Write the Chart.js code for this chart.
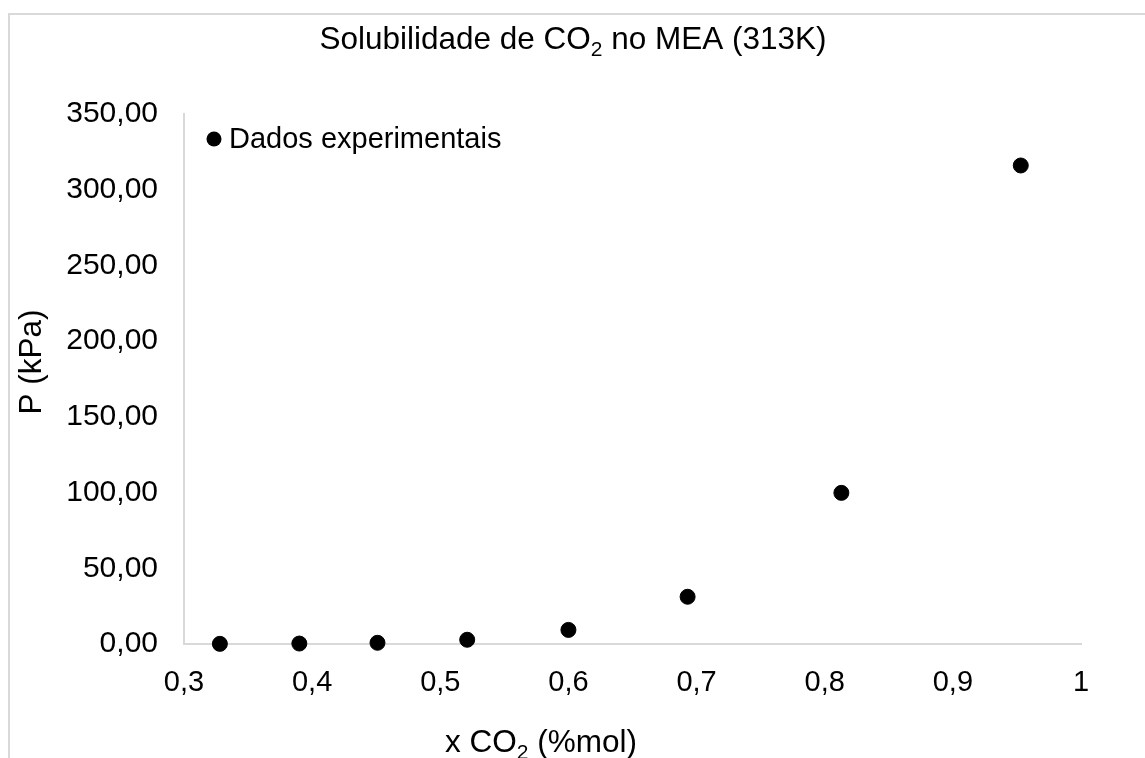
<!DOCTYPE html>
<html>
<head>
<meta charset="utf-8">
<script src="https://cdn.jsdelivr.net/npm/chart.js@4/dist/chart.umd.min.js"></script>
<style>
  html, body { margin: 0; padding: 0; background: #fff; }
  canvas { display: block; }
</style>
</head>
<body>
<canvas id="chart" width="1145" height="758"></canvas>
<script>
// fração molar de CO2 e pressão parcial medidas
const xCO2 = [0.328, 0.390, 0.451, 0.521, 0.600, 0.693, 0.813, 0.953];
const pressao = [0.1, 0.3, 0.8, 2.8, 9.3, 31.2, 99.8, 316.0];
const serieNome = "Dados experimentais";

const FONT = "'Liberation Sans', Arial, sans-serif";
const AXIS_GRAY = "#d9d9d9";

// texto com "2" subscrito (CO2)
function drawRich(ctx, parts, cx, baseline, size) {
  const subSize = Math.round(size * 0.66);
  let total = 0;
  parts.forEach(([t, sub]) => {
    ctx.font = (sub ? subSize : size) + "px " + FONT;
    total += ctx.measureText(t).width;
  });
  let x = cx - total / 2;
  ctx.textAlign = "left";
  ctx.textBaseline = "alphabetic";
  parts.forEach(([t, sub]) => {
    ctx.font = (sub ? subSize : size) + "px " + FONT;
    ctx.fillText(t, x, baseline + (sub ? size * 0.22 : 0));
    x += ctx.measureText(t).width;
  });
}

const moldura = {
  id: "moldura",
  beforeDraw(chart) {
    const ctx = chart.ctx;
    ctx.save();
    ctx.fillStyle = "#fff";
    ctx.fillRect(0, 0, chart.width, chart.height);
    ctx.strokeStyle = AXIS_GRAY;
    ctx.lineWidth = 2;
    ctx.beginPath();
    ctx.moveTo(9, chart.height);
    ctx.lineTo(9, 14);
    ctx.lineTo(chart.width, 14);
    ctx.stroke();
    ctx.restore();
  },
  afterDraw(chart) {
    const ctx = chart.ctx;
    const area = chart.chartArea;
    const ds = chart.data.datasets[0];
    ctx.save();
    ctx.fillStyle = "#000";
    drawRich(ctx, [["Solubilidade de CO", false], ["2", true], [" no MEA (313K)", false]], 573, 49, 31.5);
    drawRich(ctx, [["x CO", false], ["2", true], [" (%mol)", false]], 541, 752, 31.5);

    // legenda dentro da área do gráfico
    const lx = area.left + 30, ly = area.top + 25;
    ctx.fillStyle = ds.backgroundColor;
    ctx.beginPath();
    ctx.arc(lx, ly, ds.pointRadius, 0, Math.PI * 2);
    ctx.fill();
    ctx.fillStyle = "#000";
    ctx.font = "29px " + FONT;
    ctx.textAlign = "left";
    ctx.textBaseline = "middle";
    ctx.fillText(ds.label, lx + 15, ly + 1);

    ctx.translate(41, 362);
    ctx.rotate(-Math.PI / 2);
    drawRich(ctx, [["P (kPa)", false]], 0, 0, 31.5);
    ctx.restore();
  }
};

new Chart(document.getElementById("chart"), {
  type: "scatter",
  data: {
    datasets: [{
      label: serieNome,
      data: xCO2.map((x, i) => ({ x: x, y: pressao[i] })),
      backgroundColor: "#000",
      borderColor: "#000",
      pointRadius: 7.5,
      pointHoverRadius: 7.5,
      clip: false
    }]
  },
  options: {
    responsive: false,
    animation: false,
    devicePixelRatio: 1,
    layout: { padding: { top: 114, right: 64, left: 0, bottom: 0 } },
    plugins: {
      tooltip: { enabled: false },
      legend: { display: false }
    },
    scales: {
      x: {
        type: "linear",
        min: 0.3,
        max: 1,
        afterFit: (s) => { s.height = 114; },
        grid: { color: "transparent", drawTicks: false },
        border: { color: AXIS_GRAY, width: 2 },
        ticks: {
          stepSize: 0.1,
          padding: 22,
          color: "#000",
          font: { family: FONT, size: 29 },
          callback: (v) => String(Number(v.toFixed(1))).replace(".", ",")
        }
      },
      y: {
        min: 0,
        max: 350,
        afterFit: (s) => { s.width = 184; },
        grid: { color: "transparent", drawTicks: false },
        border: { color: AXIS_GRAY, width: 2 },
        ticks: {
          stepSize: 50,
          padding: 26,
          color: "#000",
          font: { family: FONT, size: 30 },
          callback: (v) => v.toFixed(2).replace(".", ",")
        }
      }
    }
  },
  plugins: [moldura]
});
</script>
</body>
</html>
